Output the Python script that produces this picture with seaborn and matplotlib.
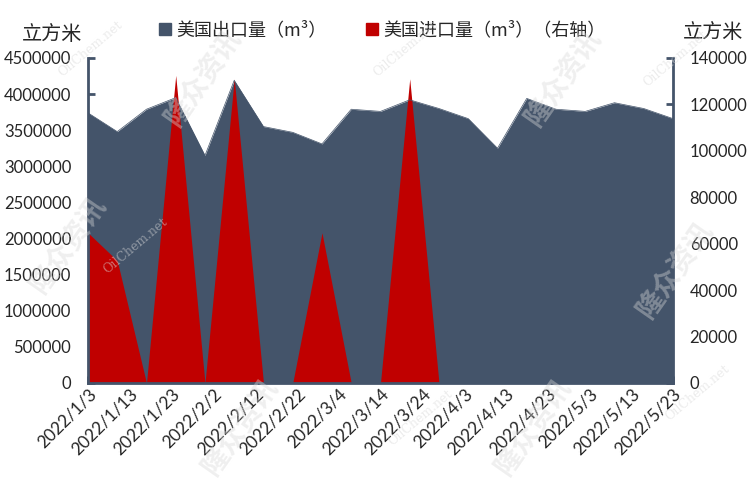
import matplotlib.pyplot as plt
import matplotlib.dates as mdates
from matplotlib.patches import Patch
import numpy as np
import pandas as pd
import seaborn as sns

# weekly data, 2022
dates = ["2022-01-03", "2022-01-10", "2022-01-17", "2022-01-24", "2022-01-31",
         "2022-02-07", "2022-02-14", "2022-02-21", "2022-02-28", "2022-03-07",
         "2022-03-14", "2022-03-21", "2022-03-28", "2022-04-04", "2022-04-11",
         "2022-04-18", "2022-04-25", "2022-05-02", "2022-05-09", "2022-05-16",
         "2022-05-23"]
export_m3 = [3740000, 3480000, 3790000, 3950000, 3150000, 4190000, 3550000,
             3470000, 3310000, 3790000, 3760000, 3920000, 3800000, 3660000,
             3250000, 3940000, 3790000, 3760000, 3880000, 3800000, 3660000]
import_m3 = [64700, 52700, 0, 132500, 0, 131000, 0, 0, 64700, 0, 0, 131000, 0,
             0, 0, 0, 0, 0, 0, 0, 0]

export_label = "美国出口量（m³）"
import_label = "美国进口量（m³）（右轴）"
unit_label = "立方米"

grey_blue = "#44546A"
red = "#C00000"

df = pd.DataFrame({"date": pd.to_datetime(dates), "export": export_m3, "import": import_m3})

sns.set_theme(style="white")
cjk = ["Noto Sans CJK SC", "DejaVu Sans"]
num_font = ["Lato", "DejaVu Sans"]
plt.rcParams["font.family"] = cjk

fig = plt.figure(figsize=(7.5, 4.91), dpi=100)
ax = fig.add_axes([0.1173, 0.22, 0.78, 0.662])
ax2 = ax.twinx()

ax.set_xlim(df["date"].iloc[0], df["date"].iloc[-1])
ax.set_ylim(0, 4500000)
ax2.set_ylim(0, 140000)

# export area on the left axis
sns.lineplot(data=df, x="date", y="export", ax=ax, color=grey_blue, linewidth=0.5)
ax.fill_between(df["date"], 0, df["export"], color=grey_blue, linewidth=0, zorder=1)
# import area in the right-axis coordinates, drawn inside ax so the ticks stay on top
ax.fill_between(df["date"], 0, df["import"], color=red, linewidth=0, zorder=1.5,
                transform=ax2.transData)

ax.set_xlabel("")
ax.set_ylabel("")
ax2.set_ylabel("")

ax.set_yticks(np.arange(0, 4500001, 500000))
ax2.set_yticks(np.arange(0, 140001, 20000))
int_fmt = plt.FuncFormatter(lambda v, p: f"{int(round(v))}")
ax.yaxis.set_major_formatter(int_fmt)
ax2.yaxis.set_major_formatter(int_fmt)

ticks = pd.date_range(df["date"].iloc[0], df["date"].iloc[-1], freq="10D")
ax.set_xticks(ticks)
ax.xaxis.set_major_formatter(
    plt.FuncFormatter(lambda v, p: (lambda d: f"{d.year}/{d.month}/{d.day}")(mdates.num2date(v))))

for a in (ax, ax2):
    for s in a.spines.values():
        s.set_visible(False)
ax.spines["left"].set_visible(True)
ax.spines["bottom"].set_visible(True)
ax2.spines["right"].set_visible(True)
for s in (ax.spines["left"], ax.spines["bottom"], ax2.spines["right"]):
    s.set_color(grey_blue)
    s.set_linewidth(2)
    s.set_zorder(3)

ax.tick_params(axis="y", direction="in", length=5, width=2, color=grey_blue,
               labelsize=12, pad=12, left=True)
ax.tick_params(axis="x", direction="in", length=5, width=2, color=grey_blue,
               labelsize=12.5, pad=2, bottom=True)
ax2.tick_params(axis="y", direction="in", length=5, width=2, color=grey_blue,
                labelsize=12, pad=12, right=True)
for lab in ax.get_yticklabels() + ax2.get_yticklabels():
    lab.set_family(num_font)
for lab in ax.get_xticklabels():
    lab.set_family(num_font)
    lab.set_rotation(45)
    lab.set_ha("right")
    lab.set_rotation_mode("anchor")

# legend and axis units
handles = [Patch(color=grey_blue, label=export_label), Patch(color=red, label=import_label)]
fig.legend(handles=handles, loc="center", bbox_to_anchor=(0.51, 0.939), ncol=2,
           frameon=False, fontsize=13, handlelength=0.65, handleheight=0.65,
           handletextpad=0.3, columnspacing=2.2)
fig.text(0.069, 0.929, unit_label, ha="center", va="center", fontsize=14.5)
fig.text(0.951, 0.933, unit_label, ha="center", va="center", fontsize=14.5)

# faint watermarks
for x, y in [(0.27, 0.84), (0.09, 0.5), (0.75, 0.84), (0.9, 0.45), (0.32, 0.13), (0.71, 0.13)]:
    fig.text(x, y, "隆众资讯", fontsize=20, fontweight="bold", color="#d9d9d9",
             alpha=0.4, rotation=55, ha="center", va="center", zorder=10)
for x, y in [(0.12, 0.9), (0.54, 0.9), (0.9, 0.88), (0.56, 0.15), (0.93, 0.2), (0.18, 0.5)]:
    fig.text(x, y, "OilChem.net", fontsize=9, color="#d9d9d9", alpha=0.5,
             rotation=40, ha="center", va="center", family="DejaVu Serif", zorder=10)

fig.savefig("out.png", dpi=100)
